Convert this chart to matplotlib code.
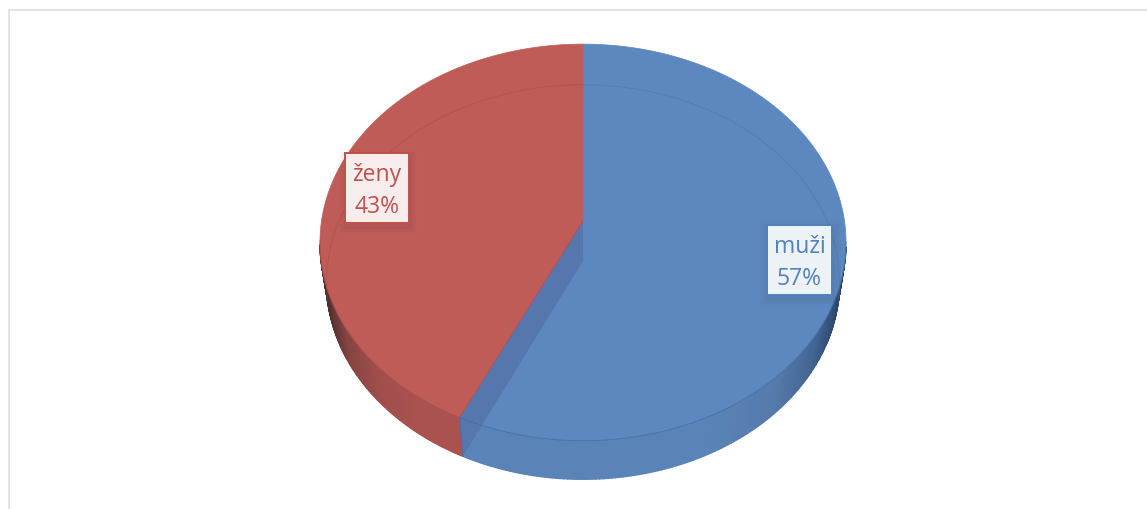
import numpy as np
import matplotlib
matplotlib.use("Agg")
import matplotlib.pyplot as plt
from matplotlib.patches import Rectangle

categories = ["muži", "ženy"]
shares = [57, 43]
label_texts = ["muži\n57%", "ženy\n43%"]
face_colors = ["#5c88bf", "#c05c58"]
text_colors = ["#4f81bd", "#c0504d"]

W, H = 1147, 510
fig = plt.figure(figsize=(W / 100, H / 100), dpi=100)
ax = fig.add_axes([0, 0, 1, 1])
ax.set_xlim(0, W)
ax.set_ylim(H, 0)
ax.axis("off")

# frame of the chart area
ax.plot([8.5, 8.5, W], [H, 10.5, 10.5], color="#e0e0e0", lw=1.3, solid_joinstyle="miter", zorder=1)


def project(theta, cx, cy, a, b, k):
    """Clockwise angle from 12 o'clock on a disc, seen in perspective."""
    u, v = np.sin(theta), np.cos(theta)
    w = 1 + k * v
    return cx + a * u / w, cy - b * v / w


TOP = dict(cx=583, cy=222, a=261.5, b=196, k=0.108)
BOT = dict(cx=583, cy=262, a=255, b=195, k=0.1066)

fr = np.array(shares, float) / sum(shares)
edges = np.concatenate([[0], np.cumsum(fr)]) * 2 * np.pi


def side_colour(x, kind):
    if kind == 0:
        xs = [460, 700, 770, 810, 828, 842]
        cs = [(0x5a, 0x84, 0xb8), (0x5a, 0x84, 0xb8), (0x55, 0x7b, 0xac),
              (0x42, 0x65, 0x93), (0x32, 0x4e, 0x75), (0x26, 0x3c, 0x5a)]
    else:
        xs = [325, 335, 350, 380, 420, 465]
        cs = [(0x45, 0x2c, 0x2c), (0x5e, 0x36, 0x35), (0x85, 0x44, 0x42),
              (0xa0, 0x4e, 0x4c), (0xa9, 0x52, 0x50), (0xab, 0x52, 0x50)]
    return tuple(np.interp(x, xs, [c[i] for c in cs]) / 255 for i in range(3))


# side walls, built from the slice angles
for i in range(2):
    th = np.linspace(edges[i], edges[i + 1], 260)
    xt, yt = project(th, **TOP)
    xb, yb = project(th, **BOT)
    for j in range(len(th) - 1):
        if np.cos(th[j]) > -0.12:
            continue
        ax.fill([xt[j], xt[j + 1], xb[j + 1], xb[j]],
                [yt[j], yt[j + 1], yb[j + 1], yb[j]],
                color=side_colour((xb[j] + xb[j + 1]) / 2, i), lw=1.0, zorder=2)

# top faces
for i in range(2):
    th = np.linspace(edges[i], edges[i + 1], 400)
    x, y = project(th, **TOP)
    ax.fill(np.r_[TOP["cx"], x], np.r_[TOP["cy"], y], color=face_colors[i], lw=0.5, zorder=3)

# inner wall of the first slice, seen through the translucent top
cut = edges[1]
x1, y1 = project(cut, **TOP)
x2, y2 = project(cut, **BOT)
ax.fill([TOP["cx"], BOT["cx"], x2, x1], [TOP["cy"], BOT["cy"], y2, y1],
        color="#5577ae", lw=0, zorder=4)
ax.plot([TOP["cx"], x1], [TOP["cy"], y1], color="#a95560", lw=0.8, zorder=5)
ax.plot([x1, x2], [y1, y2], color="#4f6ea3", lw=0.8, zorder=5)

# see-through lower rim and thin top rim
th = np.linspace(0, 2 * np.pi, 800)
xb, yb = project(th, **BOT)
mask = np.cos(th) > -0.2
xb_u = np.where(mask, xb, np.nan)
ax.plot(xb_u[th < edges[1]], yb[th < edges[1]], color="#4a74aa", lw=0.6, alpha=0.55, zorder=5)
ax.plot(xb_u[th >= edges[1]], yb[th >= edges[1]], color="#a14a48", lw=0.6, alpha=0.55, zorder=5)
for i, col in enumerate(["#3f6699", "#a24a47"]):
    th2 = np.linspace(edges[i], edges[i + 1], 300)
    th2 = th2[np.cos(th2) < -0.1]
    x, y = project(th2, **TOP)
    ax.plot(x, y, color=col, lw=0.7, alpha=0.6, zorder=5)

# data labels
boxes = [(767, 226, 65, 70), (345, 154, 64, 70)]
for (bx, by, bw, bh), txt, tc in zip(boxes, label_texts, text_colors):
    for grow, alpha in [(9, 0.025), (6, 0.04), (3, 0.05)]:
        ax.add_patch(Rectangle((bx - grow + 2, by - grow + 5), bw + 2 * grow - 2, bh + 2 * grow - 2,
                               fc="#404040", ec="none", alpha=alpha, zorder=6))
    ax.add_patch(Rectangle((bx, by), bw, bh, fc="white", ec="none", alpha=0.9, zorder=7))
    ax.add_patch(Rectangle((bx, by), bw, bh, fc="none", ec=tc, lw=1.4, zorder=7))
    ax.text(bx + bw / 2, by + bh / 2 + 2, txt, ha="center", va="center", color=tc,
            fontsize=16.5, family="Open Sans", linespacing=1.42, zorder=8)

fig.savefig("out.png", dpi=100, facecolor="white")
